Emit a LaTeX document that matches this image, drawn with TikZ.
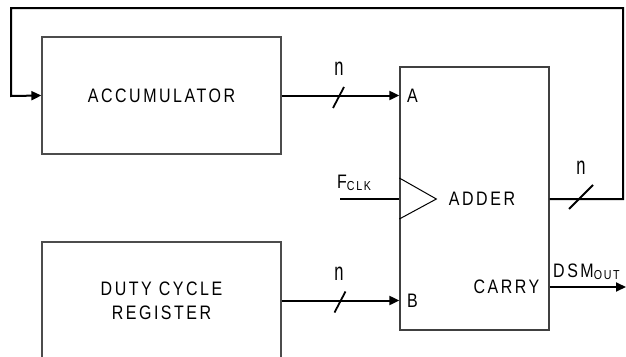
\documentclass[tikz,border=0pt]{standalone}
\usepackage{fontspec}
\setmainfont{Liberation Sans}
\newfontfamily\diaglbl[FakeStretch=0.82,LetterSpace=13]{Liberation Sans}
\newfontfamily\diagn[FakeStretch=0.66]{Liberation Sans}
\newcommand\mylbl{\diaglbl\fontsize{19.5}{24}\selectfont}
\newcommand\mysub{\diaglbl\fontsize{13}{14}\selectfont}
\newcommand\myn{\diagn\fontsize{25}{26}\selectfont}
\usetikzlibrary{arrows.meta}
\begin{document}
\begin{tikzpicture}[x=1pt,y=-1pt,
  box/.style={draw=black!70, line width=1.3pt, minimum width=239pt, minimum height=117pt, inner sep=0pt, font=\mylbl, align=center},
  adderbox/.style={draw=black!75, line width=1.3pt, minimum width=149pt, minimum height=263pt, inner sep=0pt},
  wire/.style={line width=2pt},
  arr/.style={-{Triangle[length=10pt,width=9pt]}},
  lbl/.style={font=\mylbl, inner sep=0pt},
  nlbl/.style={font=\myn, inner sep=0pt},
  tick/.style={line width=1.8pt}]
\clip (0,0) rectangle (626,356);
% blocks
\node[box] (acc) at (161.5,95.5) {ACCUMULATOR};
\node[box] (duty) at (161.5,300.5) {DUTY CYCLE\\REGISTER};
\node[adderbox] (add) at (474.5,198.5) {};
% labels inside adder
\node[lbl, anchor=west] (la) at (407,96) {A};
\node[lbl, anchor=west] (lb) at (407,301) {B};
\node[lbl] (ladd) at (482,199) {ADDER};
\node[lbl] (lcarry) at (506.5,287) {CARRY};
% helper coordinates
\coordinate (ina) at (add.west |- acc.east);
\coordinate (inb) at (add.west |- duty.east);
\coordinate (clk) at (340,199);
\coordinate (clkin) at (add.west |- clk);
\coordinate (sumout) at (add.east |- clk);
\coordinate (carryout) at (add.east |- lcarry);
\coordinate (dsmend) at (626,287);
\coordinate (fbr) at (623,199);
\coordinate (fbtr) at (623,8);
\coordinate (fbtl) at (11,8);
\coordinate (fbl) at (11,96);
% connectors
\draw[wire, arr] (acc.east) -- (ina);
\draw[wire, arr] (duty.east) -- (inb);
\draw[wire] (clk) -- (clkin);
\draw[wire, arr] (carryout) -- (dsmend);
\draw[wire, arr] (sumout) -- (fbr) -- (fbtr) -- (fbtl) -- (fbl) -- (acc.west);
% clock triangle
\draw[line width=1pt] (clkin) ++(0,-21) -- ++(37,21) -- ++(-37,20);
% bus width ticks
\coordinate (s1) at (338.5,97.5);
\coordinate (s2) at (340,302);
\coordinate (s3) at (581,197);
\draw[tick] (s1) ++(-5.5,10.5) -- ++(11,-21);
\draw[tick] (s2) ++(-5.5,10.5) -- ++(11,-21);
\draw[tick] (s3) ++(-12,12) -- ++(24,-24);
\node[nlbl] (n1) at (339,69) {n};
\node[nlbl] (n2) at (339,274) {n};
\node[nlbl] (n3) at (581,168) {n};
% external labels
\node[lbl, anchor=base west] (fclk) at (337,188) {F{\mysub\raisebox{-2pt}{CLK}}};
\node[lbl, anchor=base west] (dsm) at (553,277) {DSM{\mysub\raisebox{-2pt}{OUT}}};
\end{tikzpicture}
\end{document}
